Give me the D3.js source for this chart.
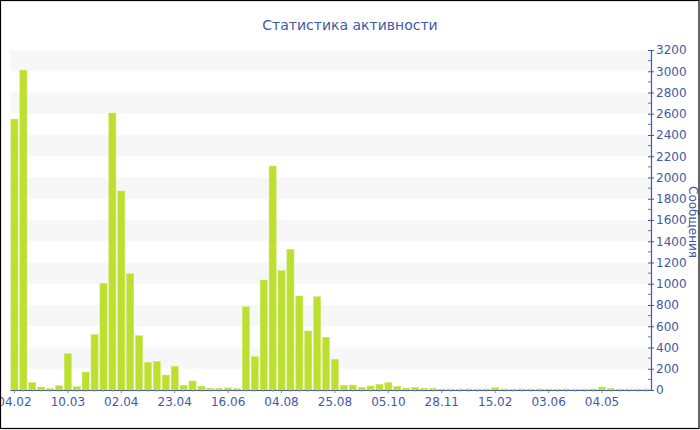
<!DOCTYPE html>
<html><head><meta charset="utf-8">
<script src="https://cdn.jsdelivr.net/npm/d3@7"></script>
<style>body{margin:0;background:#fff}svg{display:block}text{font-family:"DejaVu Sans",Verdana,sans-serif}</style>
</head><body><svg id="c" width="700" height="430"></svg>
<script>
const values = [2550,3010,70,28,15,41,342,31,169,521,1004,2607,1873,1095,511,260,270,141,223,44,85,35,16,16,20,13,784,314,1035,2108,1123,1324,885,555,878,496,289,44,47,25,38,53,69,35,19,25,16,16,9,9,9,10,9,10,22,10,9,10,9,10,9,8,9,8,9,10,28,15,9,8,8,8];
const tickLabels = ["04.02","10.03","02.04","23.04","16.06","04.08","25.08","05.10","28.11","15.02","03.06","04.05"];
const yTicks = [0,200,400,600,800,1000,1200,1400,1600,1800,2000,2200,2400,2600,2800,3000,3200];
const title = "Статистика активности";
const yTitle = "Сообщения";

const svg = d3.select("#c");
const blue = "#4259a6";
const L = 10, R = 651, T = 50, B = 390;
const cats = values.map((_, i) => i);
const x = d3.scaleBand().domain(cats).range([L, R]).paddingInner(0.2).paddingOuter(0.1);
const y = d3.scaleLinear().domain([0, 3200]).range([B, T]);

// bands
const bandStarts = yTicks.filter(v => v % 400 === 200 && v < 3200);
svg.append("g").selectAll("rect").data(bandStarts).join("rect")
  .attr("x", L).attr("width", R - L)
  .attr("y", d => y(d + 200)).attr("height", d => y(d) - y(d + 200))
  .attr("fill", "#f7f7f7");

// bars
svg.append("g").selectAll("rect").data(values).join("rect")
  .attr("x", (d, i) => x(i)).attr("width", x.bandwidth())
  .attr("y", d => y(d)).attr("height", d => B - y(d))
  .attr("fill", "#bde030").attr("stroke", "#cde86a").attr("stroke-width", 0.5);

// x axis
const xt = cats.filter(i => i % 6 === 0);
const xAxis = d3.axisBottom(x).tickValues(xt).tickFormat(i => tickLabels[i / 6]).tickSize(3).tickSizeOuter(0);
const gx = svg.append("g").attr("transform", `translate(0,${B})`).call(xAxis);
gx.select(".domain").attr("stroke", blue).attr("stroke-width", 1.2);
gx.selectAll(".tick line").attr("stroke", "#888");
gx.selectAll("text").attr("fill", blue).attr("font-size", 12).attr("dy", "0.85em");
// minor category ticks
svg.append("g").selectAll("line").data(cats.filter(i => i % 6 !== 0)).join("line")
  .attr("x1", i => x(i) + x.bandwidth() / 2).attr("x2", i => x(i) + x.bandwidth() / 2)
  .attr("y1", B).attr("y2", B + 2).attr("stroke", "#aab");

// y axis right
const yAxis = d3.axisRight(y).tickValues(yTicks).tickFormat(d3.format("d")).tickSize(3).tickPadding(2).tickSizeOuter(0);
const gy = svg.append("g").attr("transform", `translate(${R},0)`).call(yAxis);
gy.select(".domain").attr("stroke", blue).attr("stroke-width", 1.2);
gy.selectAll(".tick line").attr("stroke", blue).attr("x1", -3);
gy.selectAll("text").attr("fill", blue).attr("font-size", 12);
// minor y ticks
svg.append("g").selectAll("line").data(d3.range(100, 3200, 200)).join("line")
  .attr("x1", R - 3).attr("x2", R).attr("y1", d => y(d)).attr("y2", d => y(d))
  .attr("stroke", blue).attr("stroke-width", 0.8);

// titles
svg.append("text").attr("x", 350).attr("y", 30).attr("text-anchor", "middle")
  .attr("font-size", 14).attr("fill", blue).text(title);
svg.append("text").attr("transform", "translate(689,222) rotate(90)").attr("text-anchor", "middle")
  .attr("font-size", 12).attr("fill", blue).text(yTitle);

// border
svg.append("rect").attr("x", 0.5).attr("y", 0.5).attr("width", 698.5).attr("height", 428)
  .attr("fill", "none").attr("stroke", "#000").attr("stroke-width", 1.2);
</script></body></html>
